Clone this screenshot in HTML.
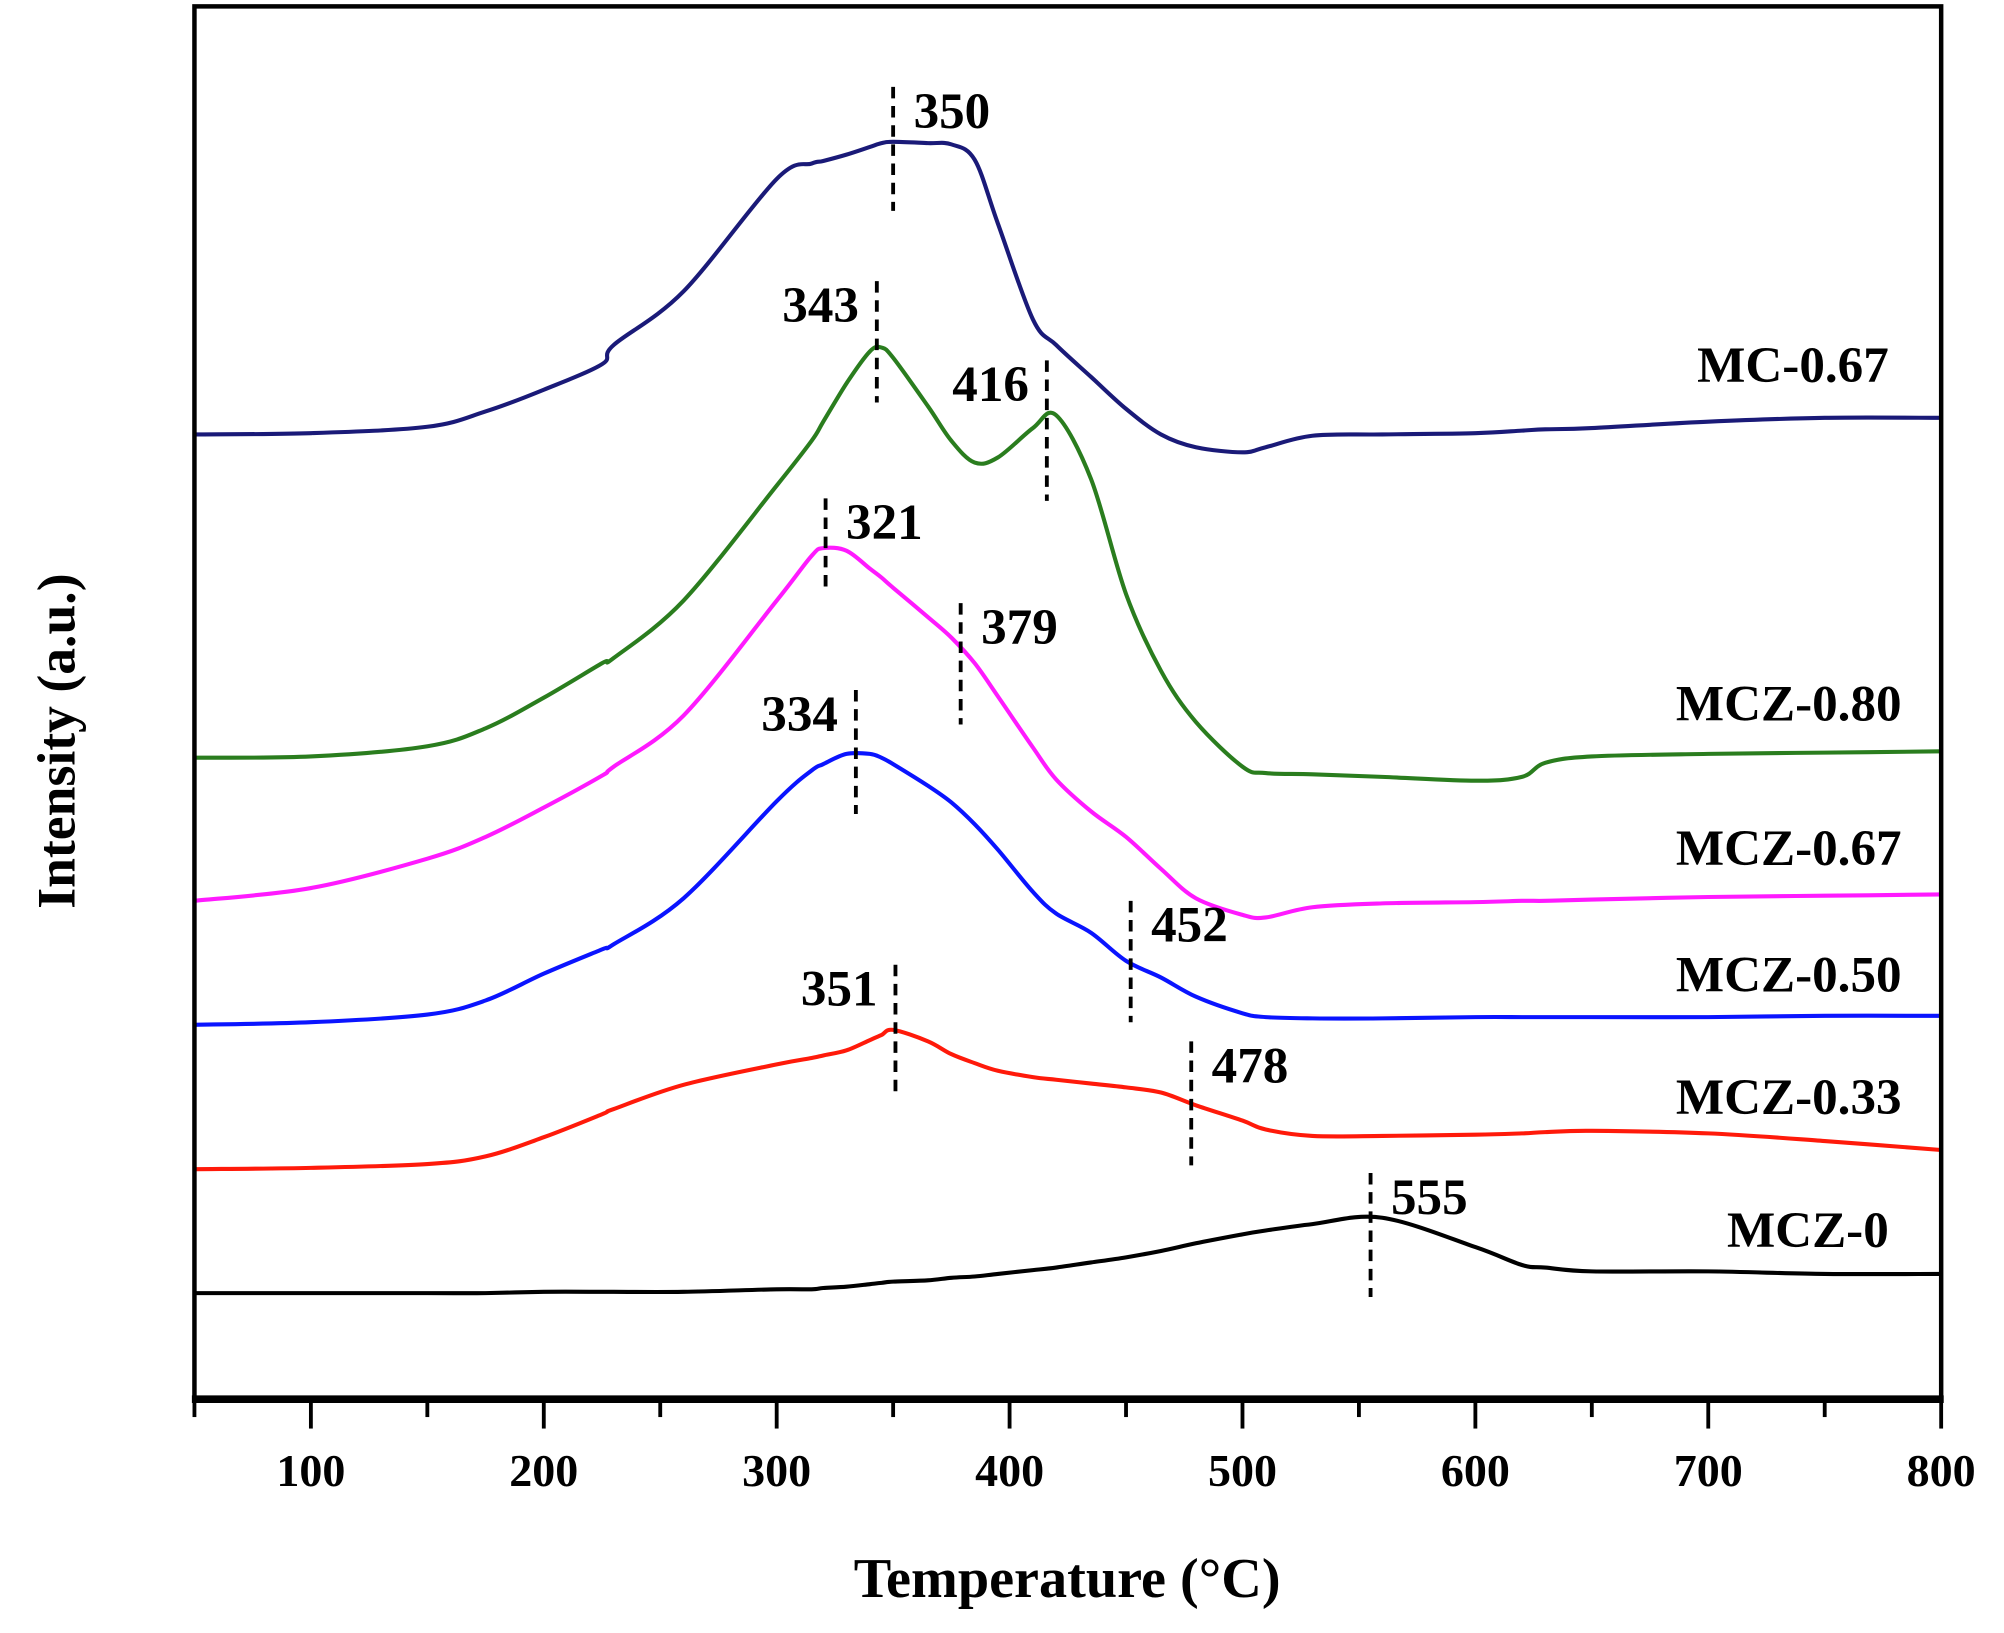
<!DOCTYPE html>
<html><head><meta charset="utf-8"><style>
html,body{margin:0;padding:0;background:#fff;}
svg{display:block;}
text{font-family:"Liberation Serif",serif;font-weight:bold;fill:#000;}
</style></head><body>
<svg id="chart" width="2004" height="1633" viewBox="0 0 1568 1278" xmlns="http://www.w3.org/2000/svg">
<g id="series"></g>
<g id="annots"></g>
<rect x="152" y="5" width="1367" height="1090" fill="none" stroke="#000" stroke-width="3.5"/>
<line x1="150" y1="1095" x2="1521" y2="1095" stroke="#000" stroke-width="6"/>
<g id="xticks"></g>
<text x="835" y="1250" font-size="44" text-anchor="middle">Temperature (°C)</text>
<text x="0" y="0" font-size="42" text-anchor="middle" transform="translate(58,580) rotate(-90)">Intensity (a.u.)</text>
</svg>
<script>
const temps=[50,100,150,175,200,225,230,260,300,315,320,330,340,345,350,365,375,385,395,410,420,435,450,465,480,500,510,530,560,600,620,630,650,700,750,800];
const mc067=[755,756,761,773,790,810,825,867,955,967,969,974,980,983,984,983,982,970,920,845,825,800,775,755,745,741,745,754,755,756,758,759,760,765,768,768];
const mcz080=[502,503,511,525,549,576,580,625,715,750,765,795,820,823,815,777,750,733,737,760,770,720,630,570,530,495,490,489,487,484,487,498,503,505,506,507];
const mcz067=[390,400,423,440,463,488,495,535,625,660,666,664,650,643,635,612,596,576,550,510,485,460,440,415,392,379,377,385,388,389,390,390,391,393,394,395];
const mcz050=[293,295,301,312,333,352,356,392,468,492,497,505,505,502,497,480,467,450,430,397,380,365,343,330,315,302,299,298,298,299,299,299,299,299,300,300];
const mcz033=[180,181,184,190,205,223,227,246,262,267,269,273,281,285,289,280,270,263,257,252,250,247,244,240,230,218,211,206,206,207,208,209,210,208,202,195];
const mcz0=[83,83,83,83,84,84,84,84,86,86,87,88,90,91,92,93,95,96,98,101,103,107,111,116,122,129,132,137,142,119,105,103,100,100,98,98];
const seriesNames=["MC-0.67","MCZ-0.80","MCZ-0.67","MCZ-0.50","MCZ-0.33","MCZ-0"];
const seriesColors=["#1a1a78","#2a7d1e","#ff1aff","#0a14ff","#ff1a0a","#000000"];
const labelValues=[810,545,432,333,237,133];
const xTicks=[100,200,300,400,500,600,700,800];
const minorTicks=[50,150,250,350,450,550,650,750];
const peakTemps=[350,343,416,321,379,334,452,351,478,555];
const peakLabels=["350","343","416","321","379","334","452","351","478","555"];
const peakTop=[1027,875,813,705,623,555,390,340,280,177];
const peakBot=[930,780,703,633,528,458,295,240,183,80];
const peakSide=[1,-1,-1,1,1,-1,1,-1,1,1];

const NS="http://www.w3.org/2000/svg";
const X0=152,X1=1519;
function x(t){return X0+(t-50)*(X1-X0)/750;}
function y(v){return 1095-v;}
function mk(tag,attrs,parent){const e=document.createElementNS(NS,tag);for(const k in attrs)e.setAttribute(k,attrs[k]);parent.appendChild(e);return e;}
function smoothPath(pts){
  let d="M"+pts[0][0].toFixed(1)+","+pts[0][1].toFixed(1);
  for(let i=0;i<pts.length-1;i++){
    const p0=pts[i-1]||pts[i],p1=pts[i],p2=pts[i+1],p3=pts[i+2]||p2;
    const c1=[p1[0]+(p2[0]-p0[0])/6,p1[1]+(p2[1]-p0[1])/6];
    const c2=[p2[0]-(p3[0]-p1[0])/6,p2[1]-(p3[1]-p1[1])/6];
    d+="C"+c1[0].toFixed(1)+","+c1[1].toFixed(1)+" "+c2[0].toFixed(1)+","+c2[1].toFixed(1)+" "+p2[0].toFixed(1)+","+p2[1].toFixed(1);
  }
  return d;
}
const sg=document.getElementById("series");
const allSeries=[mc067,mcz080,mcz067,mcz050,mcz033,mcz0];
allSeries.forEach((vals,i)=>{
  const pts=temps.map((t,j)=>[x(t),y(vals[j])]);
  const p=mk("path",{d:smoothPath(pts),fill:"none",stroke:seriesColors[i],"stroke-width":"3.2","stroke-linejoin":"round"},sg);
  
  
  const t=mk("text",{x:(seriesNames[i].startsWith("MC-")||seriesNames[i]==="MCZ-0")?1478:1488,y:y(labelValues[i])+14,"font-size":"40","text-anchor":"end"},sg);
  t.textContent=seriesNames[i];
  
  
});
const ag=document.getElementById("annots");
peakTemps.forEach((pt,i)=>{
  const px=x(pt);
  const l=mk("line",{x1:px,x2:px,y1:y(peakTop[i]),y2:y(peakBot[i]),stroke:"#000","stroke-width":"3","stroke-dasharray":"9,6"},ag);
  
  
  const tx=peakSide[i]>0?px+16:px-14;
  const t=mk("text",{x:tx,y:y(peakTop[i])+32,"font-size":"40","text-anchor":peakSide[i]>0?"start":"end"},ag);
  t.textContent=peakLabels[i];
  
  
});
const tg=document.getElementById("xticks");
xTicks.forEach(v=>{
  const l=mk("line",{x1:x(v),x2:x(v),y1:1095,y2:1118,stroke:"#000","stroke-width":"3"},tg);
  
  
  const t=mk("text",{x:x(v),y:1163,"font-size":"36","text-anchor":"middle"},tg);
  t.textContent=v;
  
  
});
minorTicks.forEach(v=>{
  const l=mk("line",{x1:x(v),x2:x(v),y1:1095,y2:1109,stroke:"#000","stroke-width":"3"},tg);
  
  
});
</script>
</body></html>
